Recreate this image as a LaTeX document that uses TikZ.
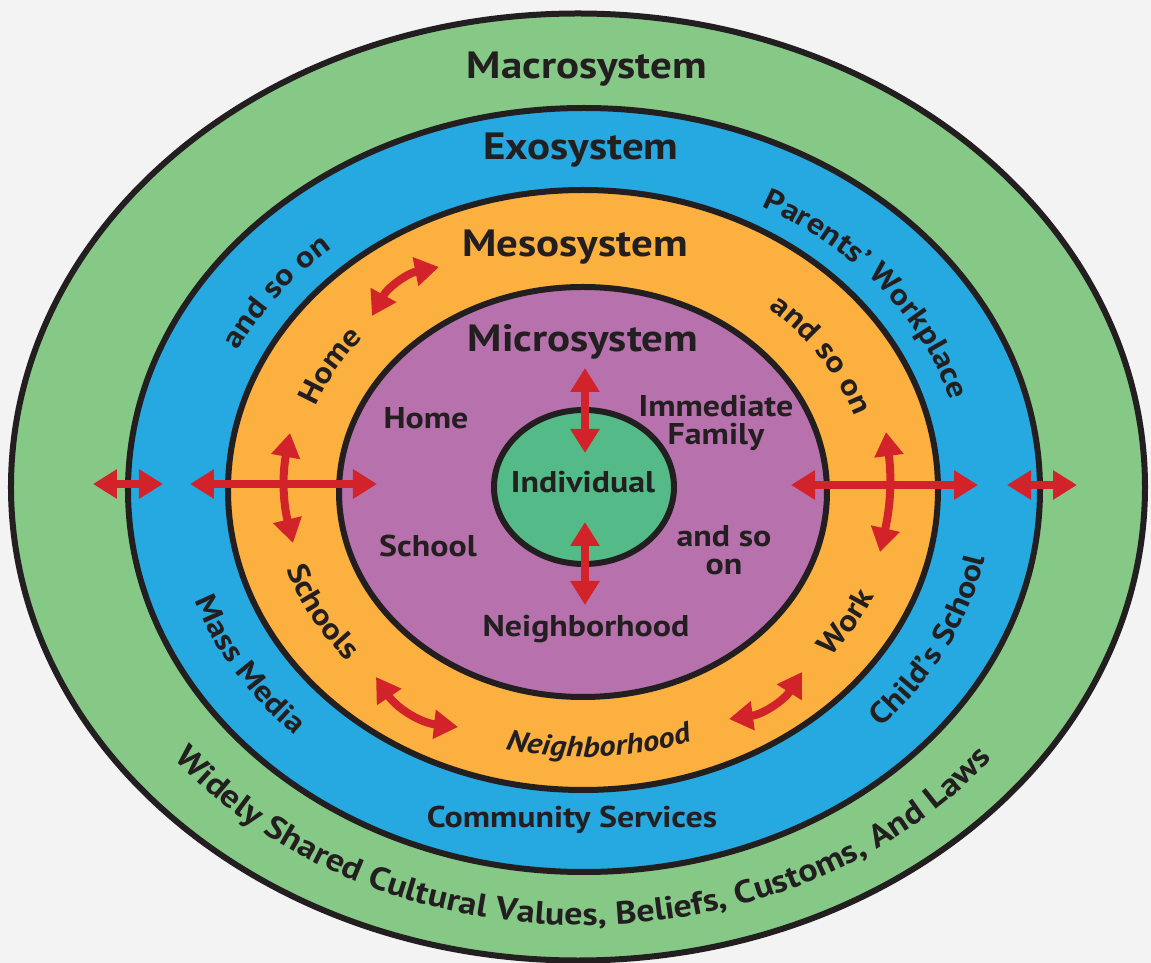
\documentclass[tikz,border=0pt]{standalone}
\usepackage{fontspec}
\setmainfont{PT Sans}[FakeStretch=1.13]
\usetikzlibrary{shapes.geometric, arrows.meta, decorations.text}
\definecolor{pagegray}{HTML}{F3F3F3}
\definecolor{inkline}{HTML}{231F20}
\definecolor{macrogreen}{HTML}{86C987}
\definecolor{exoblue}{HTML}{25A9E0}
\definecolor{mesoorange}{HTML}{FBB040}
\definecolor{micropurple}{HTML}{B771AC}
\definecolor{indivgreen}{HTML}{54BB88}
\definecolor{arrowred}{HTML}{D2232A}
\newcommand\bandfont{\bfseries\fontsize{30}{30}\selectfont\color{inkline}}
\newcommand\bandfontit{\bfseries\itshape\fontsize{29}{29}\selectfont\color{inkline}}
\newcommand\widefont{\bfseries\fontsize{32}{32}\selectfont\color{inkline}}
\begin{document}
\begin{tikzpicture}[x=1pt, y=1pt,
    ring/.style={ellipse, draw=inkline, line width=6pt, inner sep=0pt},
    title/.style={font=\bfseries\fontsize{38}{38}\selectfont, text=inkline, anchor=base},
    item/.style={font=\bfseries\fontsize{30}{28}\selectfont, text=inkline, align=center},
    link/.style={draw=arrowred, line width=8pt,
        {Triangle[width=28pt, length=24pt]}-{Triangle[width=28pt, length=24pt]}},
    bandtext/.style={decorate, decoration={text along path, text align=center,
        text={|\bandfont|#1}}},
    bandtextit/.style={decorate, decoration={text along path, text align=center,
        text={|\bandfontit|#1}}}]
    \fill[pagegray] (-583, -473) rectangle (568, 490);
    \useasboundingbox (-583, -473) rectangle (568, 490);

    \node[ring, fill=macrogreen, minimum width=1134pt, minimum height=947pt] (macro) at (-5, 3) {};
    \node[ring, fill=exoblue, minimum width=912pt, minimum height=764pt] (exo) at (1, 0) {};
    \node[ring, fill=mesoorange, minimum width=710pt, minimum height=600pt] (meso) at (0, 0) {};
    \node[ring, fill=micropurple, minimum width=488pt, minimum height=410pt] (micro) at (0, -2) {};
    \node[ring, fill=indivgreen, minimum width=180pt, minimum height=154pt] (indiv) at (1, 3) {};

    \node[title] (macro_lbl) at (4, 411) {Macrosystem};
    \node[title] (exo_lbl) at (-2, 330) {Exosystem};
    \node[title] (meso_lbl) at (-8, 233) {Mesosystem};
    \node[title] (micro_lbl) at (0, 138) {Microsystem};
    \node[item, anchor=base, font=\bfseries\fontsize{30}{30}\selectfont] (indiv_lbl) at (0, -3) {Individual};

    \node[item, anchor=base] (home_lbl) at (-157, 61) {Home};
    \node[item, anchor=base] (school_lbl) at (-155, -67) {School};
    \node[item] (family_lbl) at (133, 67) {Immediate\\Family};
    \node[item] (more_lbl) at (141, -60) {and so\\on};
    \node[item, anchor=base] (hood_lbl) at (3, -147) {Neighborhood};
    \node[item, anchor=base] (services_lbl) at (-11, -337) {Community Services};

    \path[bandtext={and so on}] (184.5:383pt and 320pt)
        arc[start angle=184.5, end angle=104.5, x radius=383pt, y radius=320pt];
    \path[bandtext={Parents’ Workplace}] (87:383pt and 320pt)
        arc[start angle=87, end angle=-13, x radius=383pt, y radius=320pt];
    \path[bandtext={Mass Media}] (170.4:410pt and 345pt)
        arc[start angle=170.4, end angle=250.4, x radius=410pt, y radius=345pt];
    \path[bandtext={Child’s School}] (294:410pt and 345pt)
        arc[start angle=294, end angle=374, x radius=410pt, y radius=345pt];

    \path[bandtext={Home}] (186.4:285pt and 239pt)
        arc[start angle=186.4, end angle=116.4, x radius=285pt, y radius=239pt];
    \path[bandtext={and so on}] (72:285pt and 239pt)
        arc[start angle=72, end angle=-8, x radius=285pt, y radius=239pt];
    \path[bandtext={Schools}] (173:311pt and 262pt)
        arc[start angle=173, end angle=243, x radius=311pt, y radius=262pt];
    \path[bandtext={Work}] (300:317pt and 267pt)
        arc[start angle=300, end angle=360, x radius=317pt, y radius=267pt];
    \path[bandtextit={Neighborhood}] (228.2:317pt and 267pt)
        arc[start angle=228.2, end angle=318.2, x radius=317pt, y radius=267pt];

    \path[decorate, decoration={text along path, text align=center,
        text={|\widefont|Widely Shared Cultural Values, Beliefs, Customs, And Laws}}]
        (190:520pt and 435pt)
        arc[start angle=190, end angle=350, x radius=520pt, y radius=435pt];

    \coordinate (up_a) at (2, 122);
    \coordinate (up_b) at (2, 37);
    \coordinate (down_a) at (2, -32);
    \coordinate (down_b) at (2, -115);
    \coordinate (left_a) at (-393, 6);
    \coordinate (left_b) at (-206, 6);
    \coordinate (far_left_a) at (-490, 6);
    \coordinate (far_left_b) at (-420, 6);
    \coordinate (right_a) at (208, 5);
    \coordinate (right_b) at (395, 5);
    \coordinate (far_right_a) at (424, 5);
    \coordinate (far_right_b) at (494, 5);
    \coordinate (west_a) at (-293, 57);
    \coordinate (west_b) at (-290, -53);
    \coordinate (east_a) at (303, 58);
    \coordinate (east_b) at (297, -62);
    \coordinate (nw_a) at (-211, 174);
    \coordinate (nw_b) at (-144, 223);
    \coordinate (sw_a) at (-207, -187);
    \coordinate (sw_b) at (-125, -237);
    \coordinate (se_a) at (146, -229);
    \coordinate (se_b) at (219, -182);

    \draw[link] (up_a) -- (up_b);
    \draw[link] (down_a) -- (down_b);
    \draw[link] (left_a) -- (left_b);
    \draw[link] (far_left_a) -- (far_left_b);
    \draw[link] (right_a) -- (right_b);
    \draw[link] (far_right_a) -- (far_right_b);
    \draw[link] (west_a) to[bend right=12] (west_b);
    \draw[link] (east_a) to[bend left=10] (east_b);
    \draw[link] (nw_a) to[bend left=25] (nw_b);
    \draw[link] (sw_a) to[bend right=25] (sw_b);
    \draw[link] (se_a) to[bend right=25] (se_b);
\end{tikzpicture}
\end{document}
